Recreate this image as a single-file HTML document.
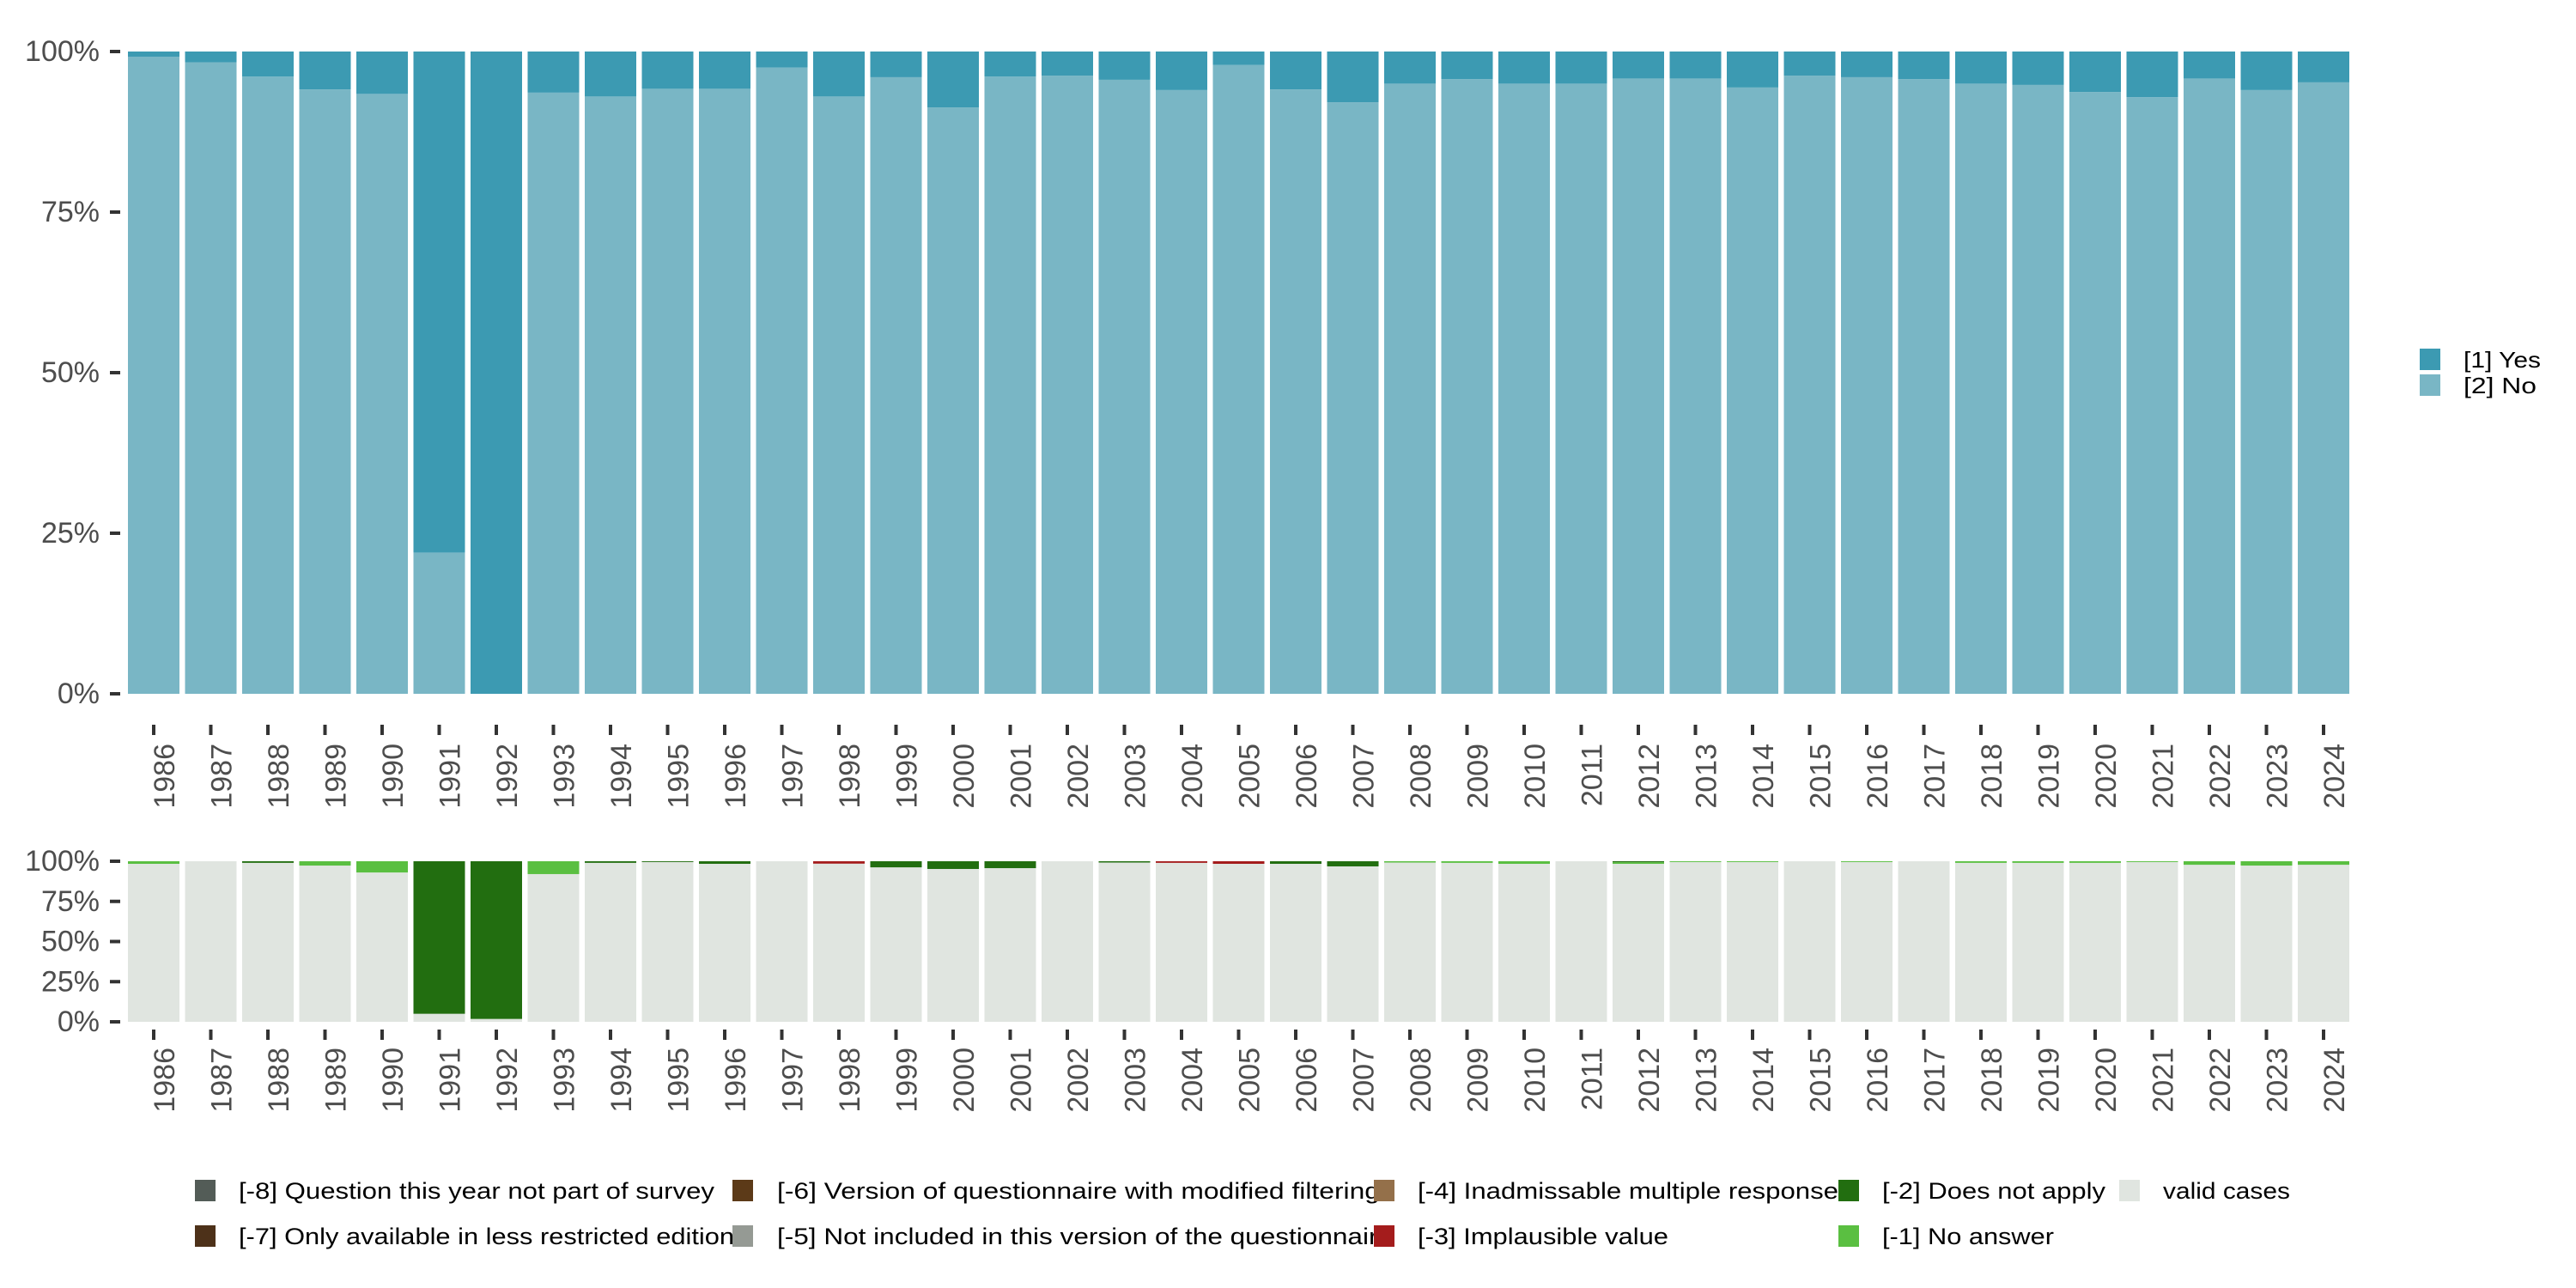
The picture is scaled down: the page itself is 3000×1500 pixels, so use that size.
<!DOCTYPE html>
<html><head><meta charset="utf-8">
<style>
html,body{margin:0;padding:0;background:#fff;}
svg{display:block;font-family:"Liberation Sans","DejaVu Sans",sans-serif;}
</style></head>
<body>
<svg id="chart" width="3000" height="1500" viewBox="0 0 3000 1500" xmlns="http://www.w3.org/2000/svg">
<g id="top"></g>
<g id="bottom"></g>
<g>
  <rect x="2818" y="406" width="24" height="25" fill="#3c9ab2"/>
  <rect x="2818" y="436" width="24" height="25" fill="#79b6c5"/>
  <text x="2869" y="428" font-size="26" fill="#000" textLength="90" lengthAdjust="spacingAndGlyphs">[1] Yes</text>
  <text x="2869" y="458" font-size="26" fill="#000" textLength="85" lengthAdjust="spacingAndGlyphs">[2] No</text>
</g>
<g font-size="27" fill="#000">
  <rect x="227" y="1374" width="24" height="25" fill="#535c57"/>
  <text x="278" y="1396" textLength="554" lengthAdjust="spacingAndGlyphs">[-8] Question this year not part of survey</text>
  <rect x="227" y="1427" width="24" height="25" fill="#4d3119"/>
  <text x="278" y="1449" textLength="577" lengthAdjust="spacingAndGlyphs">[-7] Only available in less restricted edition</text>
  <rect x="853" y="1374" width="24" height="25" fill="#5c3a18"/>
  <text x="905" y="1396" textLength="702" lengthAdjust="spacingAndGlyphs">[-6] Version of questionnaire with modified filtering</text>
  <rect x="853" y="1427" width="24" height="25" fill="#959a94"/>
  <text x="905" y="1449" textLength="717" lengthAdjust="spacingAndGlyphs">[-5] Not included in this version of the questionnaire</text>
  <rect x="1600" y="1374" width="24" height="25" fill="#94704a"/>
  <text x="1651" y="1396" textLength="490" lengthAdjust="spacingAndGlyphs">[-4] Inadmissable multiple response</text>
  <rect x="1600" y="1427" width="24" height="25" fill="#a41c1c"/>
  <text x="1651" y="1449" textLength="292" lengthAdjust="spacingAndGlyphs">[-3] Implausible value</text>
  <rect x="2141" y="1374" width="24" height="25" fill="#226e10"/>
  <text x="2192" y="1396" textLength="260" lengthAdjust="spacingAndGlyphs">[-2] Does not apply</text>
  <rect x="2141" y="1427" width="24" height="25" fill="#5abf41"/>
  <text x="2192" y="1449" textLength="200" lengthAdjust="spacingAndGlyphs">[-1] No answer</text>
  <rect x="2468" y="1374" width="24" height="25" fill="#e0e5e0"/>
  <text x="2519" y="1396" textLength="148" lengthAdjust="spacingAndGlyphs">valid cases</text>
</g>
</svg>
<script>
const years = [1986,1987,1988,1989,1990,1991,1992,1993,1994,1995,1996,1997,1998,1999,2000,2001,2002,2003,2004,2005,2006,2007,2008,2009,2010,2011,2012,2013,2014,2015,2016,2017,2018,2019,2020,2021,2022,2023,2024];
const yesPct = [0.8,1.7,3.9,5.9,6.6,78,100,6.4,7.0,5.8,5.8,2.5,7.0,4.0,8.7,3.9,3.75,4.4,6.0,2.1,5.9,7.9,5.0,4.3,5.0,5.0,4.2,4.2,5.6,3.75,4.0,4.3,5.0,5.2,6.3,7.1,4.2,6.0,4.8];
const noAnswerPct = [1.6,0,0,2.7,7,0,0,8,0,0,0,0,0,0,0,0,0,0,0,0,0,0,0.8,1,1.6,0,1,0.5,0.5,0,0.5,0,1,1,1,0.5,2.2,2.7,2.2];
const notApplyPct = [0,0,1,0,0,95,98.2,0,1,0.5,1.6,0,0,3.8,4.8,4.3,0,0.8,0,0,1.6,3.2,0,0,0,0,0.6,0,0,0,0,0,0,0,0,0,0,0,0];
const implausiblePct = [0,0,0,0,0,0,0,0,0,0,0,0,1.5,0,0,0,0,0,1,1.6,0,0,0,0,0,0,0,0,0,0,0,0,0,0,0,0,0,0,0];
const yTicks = [0,25,50,75,100];

const NS = "http://www.w3.org/2000/svg";
function mk(parent, tag, attrs, text){
  const e = document.createElementNS(NS, tag);
  for (const k in attrs) e.setAttribute(k, attrs[k]);
  if (text !== undefined) e.textContent = text;
  parent.appendChild(e);
  return e;
}
const x0 = 149, pitch = 66.5, bw = 60;
function xScale(i){ return x0 + i*pitch; }

function axes(g, top, bottom, labelY, tickY){
  const ys = v => bottom - (bottom-top)*v/100;
  yTicks.forEach(t=>{
    const tk = mk(g,'rect',{x:128,y:ys(t)-2,width:12,height:4,fill:'#333'});
    
    
    const lb = mk(g,'text',{x:116,y:ys(t),'font-size':34,fill:'#4d4d4d','text-anchor':'end','dominant-baseline':'central'}, t+'%');
    
    
  });
  years.forEach((yr,i)=>{
    const cx = xScale(i)+bw/2;
    const tk = mk(g,'rect',{x:cx-2,y:tickY,width:4,height:12,fill:'#333'});
    
    
    const lb = mk(g,'text',{x:cx+13,y:labelY,'font-size':34,fill:'#4d4d4d','text-anchor':'end','dominant-baseline':'central',transform:`rotate(-90 ${cx+13} ${labelY})`}, yr);
    
    
  });
  return ys;
}

const gt = document.getElementById('top');
const T0=60, T1=808;
const yt = axes(gt, T0, T1, 866, 844);
years.forEach((yr,i)=>{
  const x = xScale(i);
  const no = 100 - yesPct[i];
  const r1 = mk(gt,'rect',{x:x,y:yt(no),width:bw,height:yt(0)-yt(no),fill:'#79b6c5'});
  
  
  const r2 = mk(gt,'rect',{x:x,y:yt(100),width:bw,height:yt(no)-yt(100),fill:'#3c9ab2'});
  
  
});

const gb = document.getElementById('bottom');
const B0=1003, B1=1190;
const yb = axes(gb, B0, B1, 1220, 1199);
years.forEach((yr,i)=>{
  const x = xScale(i);
  const segs = [
    ['valid', 100-noAnswerPct[i]-notApplyPct[i]-implausiblePct[i], '#e0e5e0'],
    ['no-answer', noAnswerPct[i], '#5abf41'],
    ['does-not-apply', notApplyPct[i], '#226e10'],
    ['implausible', implausiblePct[i], '#a41c1c']
  ];
  let acc = 0;
  segs.forEach(s=>{
    if (s[1] <= 0) return;
    const r = mk(gb,'rect',{x:x,y:yb(acc+s[1]),width:bw,height:yb(acc)-yb(acc+s[1]),fill:s[2]});
    
    
    acc += s[1];
  });
});
</script>
</body></html>
